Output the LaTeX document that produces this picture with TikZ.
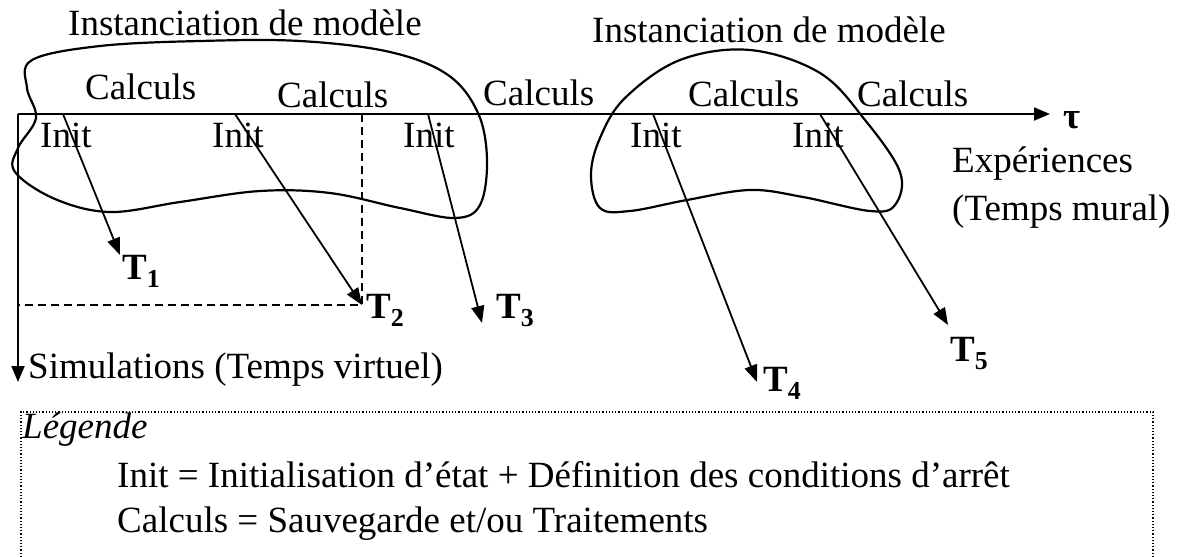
\documentclass[tikz,border=0pt]{standalone}
\usepackage{fontspec}
\setmainfont{Liberation Serif}
\usetikzlibrary{arrows.meta, calc}

\begin{document}
\begin{tikzpicture}[x=1pt, y=-1pt, font=\fontsize{37}{44}\selectfont]
  \tikzstyle{txt} = [anchor=base west, inner sep=0pt]
  \tikzstyle{tlabel} = [txt, font=\fontsize{37}{44}\selectfont\bfseries]
  \tikzstyle{axe} = [line width=1.8pt, -{Triangle[length=16pt, width=13pt]}]
  \tikzstyle{tache} = [line width=1.8pt, -{Triangle[length=17pt, width=13pt]}]
  \tikzstyle{repere} = [line width=1.6pt, dash pattern=on 8pt off 5pt]
  \tikzstyle{blob} = [line width=2.2pt]

  \useasboundingbox (0,0) rectangle (1184,557);

  % axes
  \coordinate (o) at (18,114);
  \coordinate (tau) at (1050,114);
  \coordinate (vbas) at (18,382);
  \draw[axe] (o) -- (tau);
  \draw[axe] (o) -- (vbas);
  \node[tlabel] (ltau) at (1063,128) {τ};
  \node[txt] (exp) at (952,172) {Expériences};
  \node[txt] (mural) at (952,220) {(Temps mural)};
  \node[txt] (sim) at (28,378) {Simulations (Temps virtuel)};

  % instanciations de modele
  \draw[blob] plot[smooth cycle, tension=0.6] coordinates {(32,60) (100,46) (200,41) (300,41) (390,52) (448,75) (478,113) (487,160) (480,205) (455,218) (400,208) (330,193) (260,191) (180,202) (110,212) (55,199) (15,172) (18,148) (36,118) (27,88)};
  \draw[blob] plot[smooth cycle, tension=0.6] coordinates {(750,50) (820,73) (865,120) (900,172) (895,205) (870,211) (803,197) (750,190) (687,200) (630,211) (600,208) (591,175) (600,138) (625,98) (680,60)};
  \node[txt] (inst1) at (68,35) {Instanciation de modèle};
  \node[txt] (inst2) at (592,42) {Instanciation de modèle};

  % calculs et init
  \node[txt] (calc1) at (85,99) {Calculs};
  \node[txt] (calc2) at (277,107) {Calculs};
  \node[txt] (calc3) at (483,105) {Calculs};
  \node[txt] (calc4) at (688,106) {Calculs};
  \node[txt] (calc5) at (857,106) {Calculs};
  \node[txt] (init1) at (40,147) {Init};
  \node[txt] (init2) at (212,147) {Init};
  \node[txt] (init3) at (403,147) {Init};
  \node[txt] (init4) at (630,147) {Init};
  \node[txt] (init5) at (792,147) {Init};

  % taches
  \coordinate (s1) at (63,114);
  \coordinate (s2) at (235,114);
  \coordinate (s3) at (428,114);
  \coordinate (s4) at (653,114);
  \coordinate (s5) at (820,114);
  \coordinate (t1) at (120,255);
  \coordinate (t2) at (362,305);
  \coordinate (t3) at (482,323);
  \coordinate (t4) at (757,382);
  \coordinate (t5) at (948,325);
  \draw[tache] (s1) -- (t1);
  \draw[tache] (s2) -- (t2);
  \draw[tache] (s3) -- (t3);
  \draw[tache] (s4) -- (t4);
  \draw[tache] (s5) -- (t5);
  \node[tlabel] (T1) at (122,279) {T\textsubscript{1}};
  \node[tlabel] (T2) at (366,318) {T\textsubscript{2}};
  \node[tlabel] (T3) at (496,318) {T\textsubscript{3}};
  \node[tlabel] (T4) at (763,391) {T\textsubscript{4}};
  \node[tlabel] (T5) at (950,361) {T\textsubscript{5}};

  % reperes en pointilles
  \coordinate (d1) at (362,114);
  \coordinate (d2) at (18,305);
  \draw[repere] (d1) |- (d2);

  % legende
  \draw[dotted, line width=1.2pt] (21,557) -- (21,412) -- (1153,412) -- (1153,557);
  \node[txt, font=\fontsize{37}{44}\selectfont\itshape] (leg) at (22,438) {Légende};
  \node[txt] (def1) at (117,487) {Init = Initialisation d’état + Définition des conditions d’arrêt};
  \node[txt] (def2) at (117,532) {Calculs = Sauvegarde et/ou Traitements};
\end{tikzpicture}
\end{document}
